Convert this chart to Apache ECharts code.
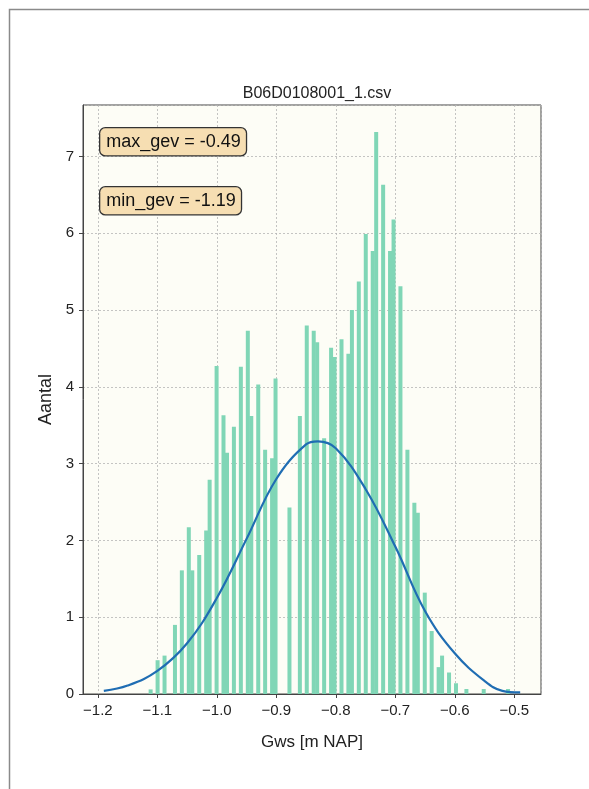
<!DOCTYPE html>
<html>
<head>
<meta charset="utf-8">
<script src="https://cdn.jsdelivr.net/npm/echarts@6/dist/echarts.min.js"></script>
<style>
  html, body { margin: 0; padding: 0; background: #fff; }
  #chart { width: 589px; height: 789px; }
</style>
</head>
<body>
<div id="chart"></div>
<script>
// histogram bins (centre of each non-empty bin) and density
const binCenters = [
  -1.1113, -1.0996, -1.0879, -1.0704, -1.0588, -1.0471, -1.0413, -1.0296, -1.0179, -1.0121,
  -1.0004, -0.9888, -0.9829, -0.9713, -0.9596, -0.9479, -0.9421, -0.9304, -0.9188, -0.9071,
  -0.9013, -0.8779, -0.8604, -0.8488, -0.8371, -0.8313, -0.8196, -0.8079, -0.8021, -0.7904,
  -0.7788, -0.7729, -0.7613, -0.7496, -0.7379, -0.7321, -0.7204, -0.7088, -0.7029, -0.6913,
  -0.6796, -0.6679, -0.6621, -0.6504, -0.6388, -0.6271, -0.6213, -0.6096, -0.5979, -0.5804,
  -0.5513, -0.5104
];
const density = [
  0.06, 0.44, 0.50, 0.90, 1.61, 2.17, 1.61, 1.81, 2.13, 2.79,
  4.27, 3.63, 3.14, 3.48, 4.26, 4.73, 3.62, 4.03, 3.18, 3.07,
  4.11, 2.43, 3.62, 4.80, 4.73, 4.58, 3.33, 4.51, 4.39, 4.62,
  4.43, 5.00, 5.37, 5.99, 5.77, 7.32, 6.63, 5.77, 6.18, 5.31,
  3.18, 2.49, 2.36, 1.32, 0.82, 0.35, 0.50, 0.28, 0.14, 0.065,
  0.065, 0.065
];
// fitted curve
const curveX = [-1.19, -1.15, -1.10, -1.05, -1.00, -0.95, -0.90, -0.85, -0.83, -0.80, -0.75, -0.70, -0.65, -0.60, -0.55, -0.52, -0.49];
const curveY = [0.04, 0.11, 0.30, 0.66, 1.25, 2.02, 2.80, 3.25, 3.29, 3.20, 2.67, 1.92, 1.08, 0.53, 0.17, 0.04, 0.02];

const xTicks = [-1.2, -1.1, -1.0, -0.9, -0.8, -0.7, -0.6, -0.5];
const yTicks = [0, 1, 2, 3, 4, 5, 6, 7];

const font = '"Liberation Sans", Arial, sans-serif';

function fmtX(v) {
  const r = Math.round(v * 10) / 10;
  if (!xTicks.some(t => Math.abs(t - r) < 1e-9) || Math.abs(v - r) > 1e-6) return '';
  return (r < 0 ? '\u2212' : '') + Math.abs(r).toFixed(1);
}

const chart = echarts.init(document.getElementById('chart'));
const option = {
  backgroundColor: '#ffffff',
  animation: false,
  title: {
    text: 'B06D0108001_1.csv',
    left: 312,
    textAlign: 'center',
    top: 81,
    textStyle: { fontFamily: font, fontSize: 16, fontWeight: 'normal', color: '#222' }
  },
  grid: {
    left: 83, right: 48, top: 105, bottom: 95,
    show: true, backgroundColor: '#fdfdf6', borderColor: '#444', borderWidth: 1
  },
  xAxis: {
    type: 'value',
    min: -1.225,
    max: -0.455,
    splitNumber: 7,
    name: 'Gws [m NAP]',
    nameLocation: 'middle',
    nameGap: 40,
    nameTextStyle: { fontFamily: font, fontSize: 17, color: '#222' },
    axisLine: { show: true, lineStyle: { color: '#444', width: 1 } },
    axisTick: { show: true, length: 4, lineStyle: { color: '#444' } },
    axisLabel: {
      showMinLabel: false, showMaxLabel: false, margin: 9,
      fontFamily: font, fontSize: 15, color: '#222', formatter: fmtX
    },
    splitLine: { show: true, lineStyle: { color: '#b5b5b5', type: [2, 2], width: 0.8 } }
  },
  yAxis: {
    type: 'value',
    min: 0,
    max: 7.67,
    interval: 1,
    name: 'Aantal',
    nameLocation: 'middle',
    nameGap: 27,
    nameTextStyle: { fontFamily: font, fontSize: 18, color: '#222' },
    axisLine: { show: true, lineStyle: { color: '#444', width: 1 } },
    axisTick: { show: true, length: 4, lineStyle: { color: '#444' } },
    axisLabel: {
      showMaxLabel: false, margin: 9,
      fontFamily: font, fontSize: 15, color: '#222',
      formatter: v => (yTicks.indexOf(v) >= 0 ? String(v) : '')
    },
    splitLine: { show: true, lineStyle: { color: '#b5b5b5', type: [2, 2], width: 0.8 } }
  },
  series: [
    {
      type: 'bar',
      data: binCenters.map((x, i) => [x, density[i]]),
      barWidth: 4,
      itemStyle: { color: '#80d6b6' },
      z: 2
    },
    {
      type: 'line',
      data: curveX.map((x, i) => [x, curveY[i]]),
      smooth: 0.4,
      showSymbol: false,
      lineStyle: { color: '#1f6db3', width: 2.2 },
      z: 3
    }
  ],
  graphic: [
    {
      type: 'rect', left: 7, top: 7,
      shape: { width: 600, height: 800 },
      style: { fill: 'none', stroke: '#8a8a8a', lineWidth: 1.5 },
      silent: true, z: 0
    },
    {
      type: 'text', left: 99, top: 127, z: 10,
      style: {
        text: 'max_gev = -0.49', fontFamily: font, fontSize: 18, fill: '#111',
        backgroundColor: '#f6deb2', borderColor: '#333', borderWidth: 1.3, borderRadius: 5,
        padding: [5, 5, 4, 6]
      }
    },
    {
      type: 'text', left: 99, top: 186, z: 10,
      style: {
        text: 'min_gev = -1.19', fontFamily: font, fontSize: 18, fill: '#111',
        backgroundColor: '#f6deb2', borderColor: '#333', borderWidth: 1.3, borderRadius: 5,
        padding: [5, 5, 4, 6]
      }
    }
  ]
};
option && chart.setOption(option);
window.addEventListener('resize', function () {
  chart.resize();
});
</script>
</body>
</html>
